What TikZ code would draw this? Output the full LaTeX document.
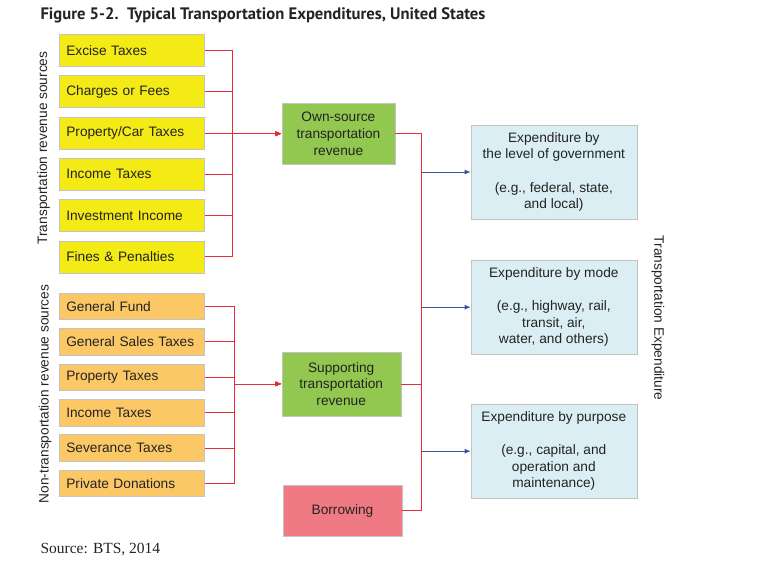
\documentclass[tikz,border=0pt]{standalone}
\usepackage{fontspec}
\setmainfont{Liberation Serif}
\setsansfont{Liberation Sans}
\newfontfamily\titlefont{PT Sans}
\usetikzlibrary{arrows.meta,positioning}
\definecolor{srcyellow}{RGB}{244,234,22}
\definecolor{srcorange}{RGB}{252,200,102}
\definecolor{revgreen}{RGB}{146,200,80}
\definecolor{borpink}{RGB}{240,122,132}
\definecolor{expblue}{RGB}{219,238,243}
\definecolor{boxgray}{RGB}{195,195,195}
\definecolor{linered}{RGB}{228,45,55}
\definecolor{lineblue}{RGB}{60,80,160}
\definecolor{txtgray}{RGB}{35,35,35}

\begin{document}
\begin{tikzpicture}[>={Latex[length=6pt,width=5pt]}, x=1pt, y=1pt, node distance=8.9pt,
    font=\sffamily\fontsize{13.7}{16.6}\selectfont, text=txtgray]
  \tikzstyle{srcbox}=[draw=boxgray, fill=srcyellow, minimum width=145pt, minimum height=32pt, text width=131pt, align=left, inner xsep=7pt]
  \tikzstyle{revbox}=[draw=boxgray, fill=revgreen, align=center]
  \tikzstyle{expbox}=[draw=boxgray, fill=expblue, align=center, minimum width=166pt, minimum height=94pt]
  \tikzstyle{redline}=[draw=linered, line width=0.8pt]
  \tikzstyle{blueline}=[draw=lineblue, line width=0.8pt]
  \useasboundingbox (0,0) rectangle (758,-571);

  \node[anchor=west, font=\titlefont\bfseries\fontsize{16.6}{19}\selectfont] (title) at (37,-15) {Figure 5-2.\ \ Typical Transportation Expenditures, United States};

  % transportation revenue sources
  \node[srcbox] (exc) at (131.8,-50.3) {Excise Taxes};
  \node[srcbox, below=of exc] (chg) {Charges or Fees};
  \node[srcbox, below=of chg] (pct) {Property/Car Taxes};
  \node[srcbox, below=of pct] (inc) {Income Taxes};
  \node[srcbox, below=of inc] (inv) {Investment Income};
  \node[srcbox, below=of inv] (fin) {Fines \& Penalties};
  \node[rotate=90] (tlab) at (43.5,-148) {Transportation revenue sources};

  % non-transportation revenue sources
  \node[srcbox, fill=srcorange, minimum height=26.5pt] (gfd) at (131.8,-306.3) {General Fund};
  \node[srcbox, fill=srcorange, minimum height=26.5pt, below=8.5pt of gfd] (gst) {General Sales Taxes};
  \node[srcbox, fill=srcorange, minimum height=26.5pt, below=8.5pt of gst] (ptx) {Property Taxes};
  \node[srcbox, fill=srcorange, minimum height=26.5pt, below=8.5pt of ptx] (itx) {Income Taxes};
  \node[srcbox, fill=srcorange, minimum height=26.5pt, below=8.5pt of itx] (svt) {Severance Taxes};
  \node[srcbox, fill=srcorange, minimum height=26.5pt, below=8.5pt of svt] (pdn) {Private Donations};
  \node[rotate=90] (nlab) at (45,-394) {Non-transportation revenue sources};

  % revenue
  \node[revbox, minimum width=113.3pt, minimum height=60.7pt] (own) at (338.4,-133.7) {Own-source\\transportation\\revenue};
  \node[revbox, minimum width=119pt, minimum height=64.3pt] (sup) at (341.2,-383.9) {Supporting\\transportation\\revenue};
  \node[revbox, fill=borpink, minimum width=118.4pt, minimum height=51pt] (bor) at (342.5,-510.5) {Borrowing};

  % expenditure
  \node[expbox] (lev) at (553.8,-172) {Expenditure by\\the level of government\\[16.6pt](e.g., federal, state,\\and local)};
  \node[expbox] (mod) at (553.8,-307.2) {Expenditure by mode\\[16.6pt](e.g., highway, rail,\\transit, air,\\water, and others)};
  \node[expbox] (pur) at (553.8,-451.2) {Expenditure by purpose\\[16.6pt](e.g., capital, and\\operation and\\maintenance)};
  \node[rotate=-90] (elab) at (658,-318) {Transportation Expenditure};

  \foreach \n in {exc,chg,pct,inc,inv,fin}
    \draw[redline,->] (\n.east) -- ++(28,0) |- (own.west);
  \foreach \n in {gfd,gst,ptx,itx,svt,pdn}
    \draw[redline,->] (\n.east) -- ++(29.7,0) |- (sup.west);

  \coordinate (rbar) at (421.7,0);
  \draw[redline] (own.east) -| (bor.east -| rbar) -- (bor.east);
  \draw[redline] (sup.east) -- (sup.east -| rbar);
  \foreach \n in {lev,mod,pur}
    \draw[blueline,->] (rbar |- \n.west) -- (\n.west);

  \node[anchor=west, font=\rmfamily\fontsize{15.5}{18}\selectfont] (src) at (37,-550) {Source: BTS, 2014};
\end{tikzpicture}
\end{document}
